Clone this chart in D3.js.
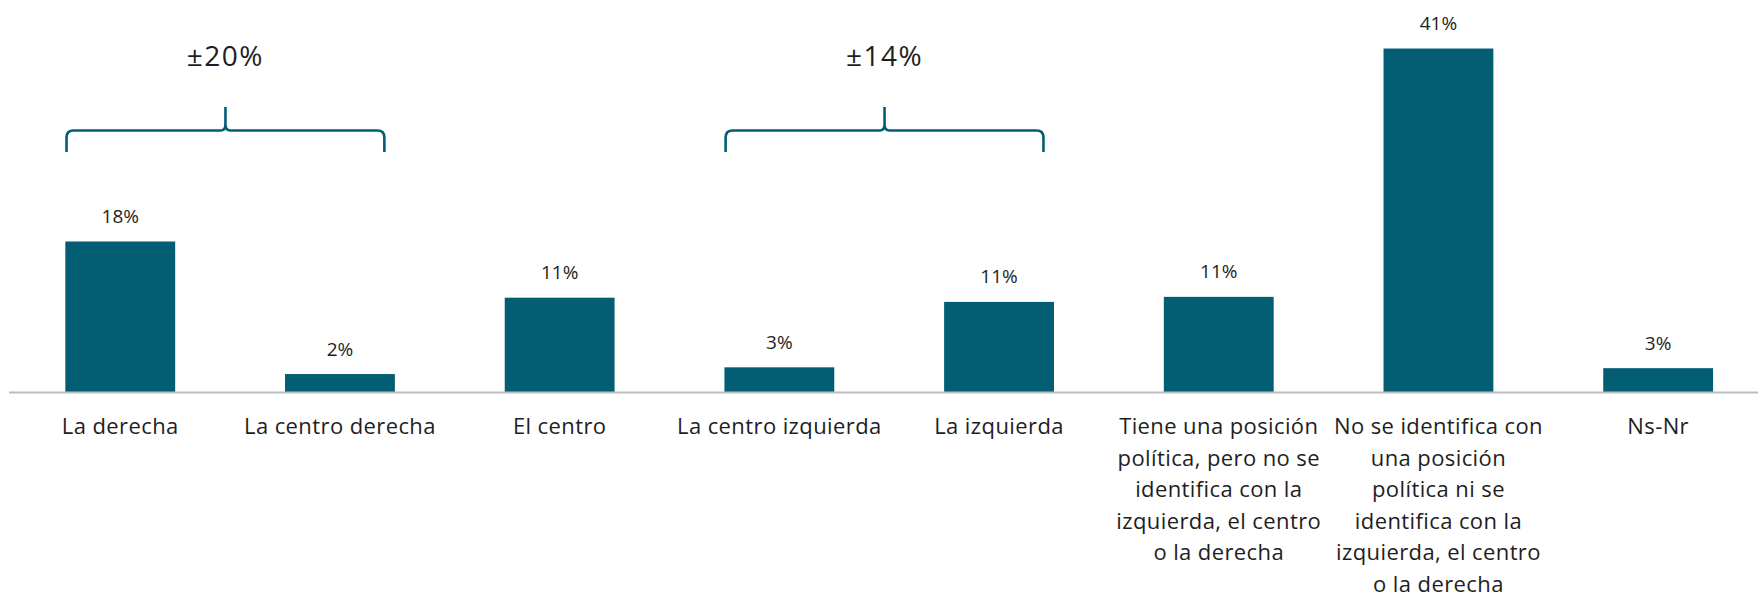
<!DOCTYPE html>
<html>
<head>
<meta charset="utf-8">
<script src="https://cdn.jsdelivr.net/npm/d3@7"></script>
<style>
  html, body { margin: 0; padding: 0; background: #fff; }
  svg { display: block; }
  text { font-family: "Open Sans", "Noto Sans", sans-serif; fill: #1e1e1e; }
</style>
</head>
<body>
<svg id="chart" width="1758" height="596"></svg>
<script>
// ---- data ----
const categories = [
  "La derecha",
  "La centro derecha",
  "El centro",
  "La centro izquierda",
  "La izquierda",
  "Tiene una posición política, pero no se identifica con la izquierda, el centro o la derecha",
  "No se identifica con una posición política ni se identifica con la izquierda, el centro o la derecha",
  "Ns-Nr"
];
const tickLabelLines = [
  ["La derecha"],
  ["La centro derecha"],
  ["El centro"],
  ["La centro izquierda"],
  ["La izquierda"],
  ["Tiene una posición", "política, pero no se", "identifica con la", "izquierda, el centro", "o la derecha"],
  ["No se identifica con", "una posición", "política ni se", "identifica con la", "izquierda, el centro", "o la derecha"],
  ["Ns-Nr"]
];
const values = [18.0, 2.2, 11.3, 3.0, 10.8, 11.4, 41.0, 2.9];
const groupFrom = ["La derecha", "La centro izquierda"];
const groupTo = ["La centro derecha", "La izquierda"];
const groupLabels = ["±20%", "±14%"];

// ---- layout ----
const barColor = "#035e74";
const svg = d3.select("#chart");
const baseY = 392.5;

const x = d3.scaleBand()
  .domain(categories)
  .range([10.4, 1768])
  .paddingInner(0.5)
  .paddingOuter(0.25);

const y = d3.scaleLinear()
  .domain([0, 45])
  .range([baseY, baseY - 45 * 8.39]);

// bars
svg.append("g").selectAll("rect")
  .data(categories)
  .join("rect")
  .attr("x", d => x(d))
  .attr("width", x.bandwidth())
  .attr("y", (d, i) => y(values[i]))
  .attr("height", (d, i) => y(0) - y(values[i]))
  .attr("fill", barColor);

// value labels
const fmt = v => d3.format(".0f")(v) + "%";
svg.append("g").selectAll("text")
  .data(categories)
  .join("text")
  .attr("x", d => x(d) + x.bandwidth() / 2)
  .attr("y", (d, i) => y(values[i]) - 18.5)
  .attr("text-anchor", "middle")
  .style("font-size", "19px")
  .text((d, i) => fmt(values[i]));

// x axis
const axis = svg.append("g")
  .attr("transform", `translate(0,${baseY})`)
  .call(d3.axisBottom(x).tickSize(0).tickSizeOuter(0));
axis.select(".domain")
  .attr("stroke", "#bdbdbd")
  .attr("stroke-width", 2)
  .attr("d", "M9,0H1768");
axis.selectAll(".tick text").each(function(d, i) {
  const t = d3.select(this);
  t.text(null)
    .attr("y", 41.5)
    .attr("dy", null)
    .style("font-size", "22px")
    .style("letter-spacing", "0.4px")
    .attr("fill", "#1e1e1e");
  tickLabelLines[i].forEach((line, j) => {
    t.append("tspan")
      .attr("x", 0)
      .attr("y", 41.5 + j * 31.5)
      .text(line);
  });
});

// brackets
const bracketG = svg.append("g");
groupFrom.forEach((from, k) => {
  const x0 = x(from) + 1.2;
  const x1 = x(groupTo[k]) + x.bandwidth() - 10.5;
  const xc = (x0 + x1) / 2;
  const yh = 130.5, yb = 152, yt = 107, r = 7;
  const p = d3.path();
  p.moveTo(x0, yb);
  p.lineTo(x0, yh + r);
  p.quadraticCurveTo(x0, yh, x0 + r, yh);
  p.lineTo(xc - 5, yh);
  p.quadraticCurveTo(xc, yh, xc, yh - 6);
  p.lineTo(xc, yt);
  p.moveTo(xc, yh - 6);
  p.quadraticCurveTo(xc, yh, xc + 5, yh);
  p.lineTo(x1 - r, yh);
  p.quadraticCurveTo(x1, yh, x1, yh + r);
  p.lineTo(x1, yb);
  bracketG.append("path")
    .attr("d", p.toString())
    .attr("fill", "none")
    .attr("stroke", barColor)
    .attr("stroke-width", 2.6);
  bracketG.append("text")
    .attr("x", xc)
    .attr("y", 65.5)
    .attr("text-anchor", "middle")
    .style("font-size", "28px")
    .style("letter-spacing", "1.5px")
    .text(groupLabels[k]);
});
</script>
</body>
</html>
